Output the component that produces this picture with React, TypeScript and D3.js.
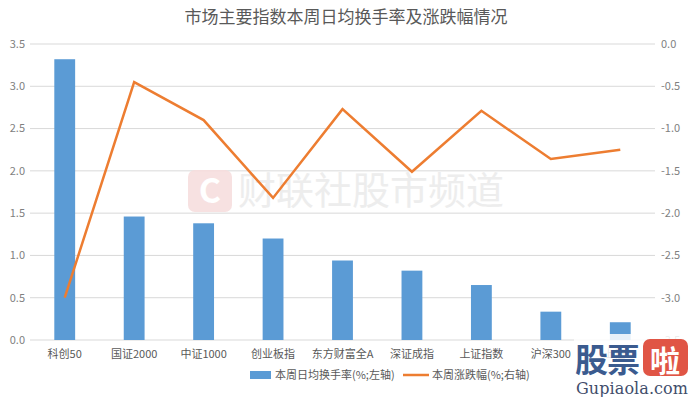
import React from 'react';
import * as d3 from 'd3';

// data
const categories = ['科创50', '国证2000', '中证1000', '创业板指', '东方财富全A', '深证成指', '上证指数', '沪深300', '上证50'];
const turnover = [3.32, 1.46, 1.38, 1.2, 0.94, 0.82, 0.65, 0.335, 0.21];
const change = [-3.0, -0.45, -0.9, -1.82, -0.77, -1.51, -0.79, -1.36, -1.25];
const leftTicks = [0, 0.5, 1, 1.5, 2, 2.5, 3, 3.5];
const rightTicks = [0, -0.5, -1, -1.5, -2, -2.5, -3, -3.5];

const W = 692;
const H = 397;
const margin = { top: 44, right: 37, bottom: 57, left: 30 };
const font = '"Noto Sans CJK SC", "Noto Sans", sans-serif';

const App = () => {
    const x = d3.scaleBand()
        .domain(categories)
        .range([margin.left, W - margin.right]);
    const yL = d3.scaleLinear().domain([0, 3.5]).range([H - margin.bottom, margin.top]);
    const yR = d3.scaleLinear().domain([-3.5, 0]).range([H - margin.bottom, margin.top]);
    const barW = x.bandwidth() * 0.3;
    const cx = (c: string) => (x(c) as number) + x.bandwidth() / 2;

    const line = d3.line<number>()
        .x((d, i) => cx(categories[i]))
        .y(d => yR(d));

    return (
        <svg width={W} height={H} style={{ position: 'absolute', left: 0, top: 0, background: '#fff' }} fontFamily={font}>
            <rect width={W} height={H} fill="#fff" />
            <text x={346} y={23} textAnchor="middle" fontSize={17} fill="#595959">市场主要指数本周日均换手率及涨跌幅情况</text>

            {/* grid + axes */}
            {leftTicks.map(t => (
                <g key={t}>
                    <line x1={margin.left} x2={W - margin.right} y1={yL(t)} y2={yL(t)} stroke="#d9d9d9" strokeWidth={1} />
                    <text x={25} y={yL(t)} dy="0.35em" textAnchor="end" fontSize={11} fill="#7f7f7f">{t.toFixed(1)}</text>
                </g>
            ))}
            {rightTicks.map(t => (
                <text key={t} x={W - margin.right + 6} y={yR(t)} dy="0.35em" textAnchor="start" fontSize={11} fill="#7f7f7f">{t.toFixed(1)}</text>
            ))}

            {/* center watermark */}
            <g opacity={0.9}>
                <rect x={188} y={170} width={44} height={42} rx={7} fill="#f7dede" />
                <text x={210} y={191} dy="0.36em" textAnchor="middle" fontSize={34} fontWeight="bold" fill="#fff">C</text>
                <text x={238} y={190} dy="0.36em" fontSize={38} fill="#ececec">财联社股市频道</text>
            </g>

            {categories.map((c, i) => (
                <rect key={c} x={cx(c) - barW / 2} y={yL(turnover[i])} width={barW} height={yL(0) - yL(turnover[i])} fill="#5b9bd5" />
            ))}
            <path d={line(change) || ''} fill="none" stroke="#ed7d31" strokeWidth={2.5} strokeLinejoin="miter" />

            {categories.map(c => (
                <text key={c} x={cx(c)} y={354} dy="0.35em" textAnchor="middle" fontSize={11} fill="#595959">{c}</text>
            ))}

            {/* legend */}
            <rect x={250} y={371} width={21} height={8} fill="#5b9bd5" />
            <text x={275} y={375} dy="0.35em" fontSize={11} fill="#595959">本周日均换手率(%;左轴)</text>
            <line x1={403} x2={429} y1={375} y2={375} stroke="#ed7d31" strokeWidth={2.5} />
            <text x={432} y={375} dy="0.35em" fontSize={11} fill="#595959">本周涨跌幅(%;右轴)</text>

            {/* bottom-right watermark */}
            <g>
                <rect x={574} y={334} width={118} height={63} fill="#fff" opacity={0.85} />
                <text x={575} y={372} fontSize={33} fontWeight="bold" fill="#3b5b8f" letterSpacing={-1}>股票</text>
                <rect x={643} y={339} width={45} height={37} rx={7} fill="#e05545" />
                <text x={665} y={372} textAnchor="middle" fontSize={30} fontWeight="bold" fill="#fff">啦</text>
                <text x={576} y={394} fontSize={16} fontFamily='"DejaVu Serif", serif' fill="#3f4d6b" textLength={112}>Gupiaola.com</text>
            </g>
        </svg>
    );
};

export default App;
